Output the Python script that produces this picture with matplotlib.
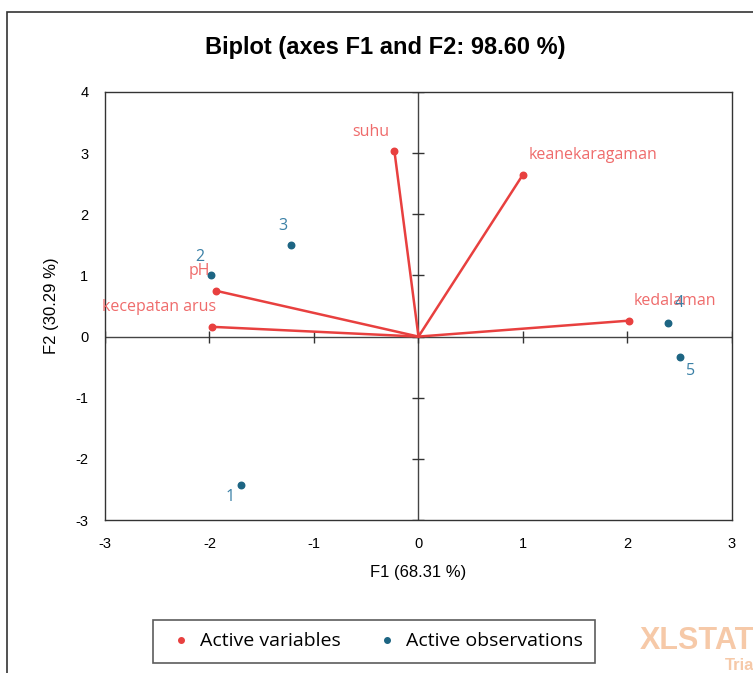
import matplotlib.pyplot as plt
from matplotlib.lines import Line2D
from matplotlib.patches import Rectangle

plt.rcParams['axes.unicode_minus'] = False

# active variables (F1, F2)
var_names = ['suhu', 'keanekaragaman', 'kedalaman', 'pH', 'kecepatan arus']
var_f1 = [-0.23, 1.00, 2.01, -1.94, -1.98]
var_f2 = [3.03, 2.65, 0.26, 0.75, 0.16]

# active observations (F1, F2)
obs_names = ['1', '2', '3', '4', '5']
obs_f1 = [-1.70, -1.99, -1.22, 2.39, 2.50]
obs_f2 = [-2.42, 1.01, 1.49, 0.23, -0.33]

x_ticks = [-3, -2, -1, 0, 1, 2, 3]
y_ticks = [-3, -2, -1, 0, 1, 2, 3, 4]

red = '#e8403f'
red_txt = '#ef6b6b'
blue = '#1d6583'
blue_txt = '#3a80a6'
lab_font = ['Open Sans', 'DejaVu Sans']
tick_font = ['Liberation Sans', 'DejaVu Sans']
title_font = ['Liberation Sans Narrow', 'Liberation Sans', 'DejaVu Sans']

fig = plt.figure(figsize=(7.53, 6.73), dpi=100)
ax = fig.add_axes([0.1394, 0.2273, 0.8327, 0.636])

# outer frame of the chart
fig.patches.append(Rectangle((0.0093, -0.01), 1.0, 0.992, transform=fig.transFigure,
                             fill=False, edgecolor='#333333', linewidth=1.2))

ax.axhline(0, color='#444444', linewidth=1)
ax.axvline(0, color='#444444', linewidth=1)
# small cross ticks on the zero lines
ax.plot([0] * len(y_ticks), y_ticks, linestyle='none', marker='_', markersize=8,
        color='#333333', markeredgewidth=1)
ax.plot(x_ticks, [0] * len(x_ticks), linestyle='none', marker='|', markersize=8,
        color='#333333', markeredgewidth=1)

for x, y in zip(var_f1, var_f2):
    ax.plot([0, x], [0, y], color=red, linewidth=1.8, zorder=3)
ax.scatter(var_f1, var_f2, s=22, color=red, zorder=4)
ax.scatter(obs_f1, obs_f2, s=22, color=blue, zorder=4)

var_off = [(-17, 14, 'center'), (4, 14, 'left'), (4, 14, 'left'),
           (-12, 14, 'center'), (-38, 14, 'center')]
for name, x, y, (dx, dy, ha) in zip(var_names, var_f1, var_f2, var_off):
    ax.annotate(name, (x, y), xytext=(dx, dy), textcoords='offset points',
                ha=ha, va='center', color=red_txt, fontsize=11.5, family=lab_font, zorder=5)

obs_off = [(-8, -9), (-8, 13), (-6, 14), (8, 14), (8, -10)]
for name, x, y, (dx, dy) in zip(obs_names, obs_f1, obs_f2, obs_off):
    ax.annotate(name, (x, y), xytext=(dx, dy), textcoords='offset points',
                ha='center', va='center', color=blue_txt, fontsize=11.5, family=lab_font, zorder=5)

ax.set_xlim(-3, 3)
ax.set_ylim(-3, 4)
ax.set_xticks(x_ticks)
ax.set_yticks(y_ticks)
ax.tick_params(length=0, pad=12, labelsize=10.5)
for lab in ax.get_xticklabels() + ax.get_yticklabels():
    lab.set_family(tick_font)
for sp in ax.spines.values():
    sp.set_color('#333333')
    sp.set_linewidth(1)

ax.set_xlabel('F1 (68.31 %)', fontsize=12, family=tick_font, labelpad=10)
ax.set_ylabel('F2 (30.29 %)', fontsize=12, family=tick_font, labelpad=12)
fig.text(0.512, 0.93, 'Biplot (axes F1 and F2: 98.60 %)', ha='center', va='center',
         fontsize=17, fontweight='bold', family=title_font)

handles = [Line2D([], [], linestyle='none', marker='o', markersize=4, color=red),
           Line2D([], [], linestyle='none', marker='o', markersize=4, color=blue)]
leg = fig.legend(handles, ['Active variables', 'Active observations'], loc='center',
                 bbox_to_anchor=(0.497, 0.047), ncol=2, frameon=True, fancybox=False,
                 prop={'family': lab_font, 'size': 14}, handletextpad=0.15,
                 columnspacing=1.6, borderpad=0.65, handlelength=1.6)
leg.get_frame().set_edgecolor('#333333')
leg.get_frame().set_linewidth(1.2)

# watermark
fig.text(0.85, 0.048, 'XLSTAT', fontsize=22, fontweight='bold', color='#f6c9a8',
         family=tick_font, va='center')
fig.text(0.963, 0.0, 'Trial', fontsize=12, fontweight='bold', color='#f6c9a8',
         family=tick_font, va='bottom')

fig.savefig('out.png', dpi=100)
